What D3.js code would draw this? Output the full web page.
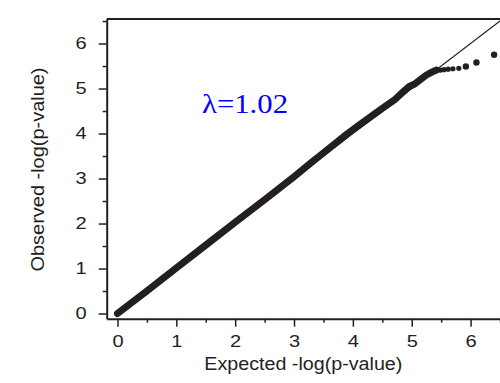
<!DOCTYPE html>
<html>
<head>
<meta charset="utf-8">
<script src="https://cdn.jsdelivr.net/npm/d3@7"></script>
<style>
  body { margin: 0; background: #fff; }
  svg { display: block; }
</style>
</head>
<body>
<svg id="qq"></svg>
<script>
// dense part of the QQ curve (expected, observed)
const expectedDense = [0, 0.5, 1, 1.5, 2, 2.5, 3, 3.3, 3.5, 3.7, 3.9, 4.1, 4.3, 4.5, 4.7, 4.85, 4.95, 5.05, 5.15, 5.25, 5.35, 5.42]
const observedDense = [0, 0.5, 1.01, 1.52, 2.03, 2.53, 3.04, 3.36, 3.57, 3.78, 3.99, 4.18, 4.37, 4.56, 4.74, 4.92, 5.04, 5.1, 5.2, 5.3, 5.37, 5.41]

// top-ranked points drawn as separate dots
const expectedTail = [5.49, 5.55, 5.62, 5.70, 5.80, 5.92, 6.10, 6.40]
const observedTail = [5.41, 5.42, 5.43, 5.44, 5.45, 5.49, 5.58, 5.75]

const xTicks = [0, 1, 2, 3, 4, 5, 6]
const yTicks = [0, 1, 2, 3, 4, 5, 6]
const minorTicks = [0.5, 1.5, 2.5, 3.5, 4.5, 5.5, 6.5]
const lambdaLabel = "λ=1.02"

const width = 500
const height = 383
const ink = "#231f20"
const sans = "'Liberation Sans', Arial, sans-serif"
const stretch = 1.18 // the original's sans text is set a little wide

const svg = d3.select("svg#qq")
  .attr("width", width)
  .attr("height", height)
  .attr("viewBox", `0 0 ${width} ${height}`)

const margin = {top: 19, right: 0, bottom: 64.3, left: 106.7}

const x = d3.scaleLinear()
  .domain([-0.183, 6.5])
  .range([margin.left, width - margin.right])

const y = d3.scaleLinear()
  .domain([-0.115, 6.545])
  .range([height - margin.bottom, margin.top])

svg.append("defs").append("clipPath").attr("id", "plot")
  .append("rect")
  .attr("x", margin.left).attr("y", margin.top)
  .attr("width", width - margin.left - margin.right)
  .attr("height", height - margin.top - margin.bottom)

// y = x reference line
svg.append("line")
  .attr("clip-path", "url(#plot)")
  .attr("x1", x(0)).attr("y1", y(0))
  .attr("x2", x(6.6)).attr("y2", y(6.6))
  .attr("stroke", ink)
  .attr("stroke-width", 1.1)

const dense = d3.zip(expectedDense, observedDense)
svg.append("path")
  .datum(dense)
  .attr("fill", "none")
  .attr("stroke", ink)
  .attr("stroke-width", 7)
  .attr("stroke-linecap", "round")
  .attr("stroke-linejoin", "round")
  .attr("d", d3.line().x(d => x(d[0])).y(d => y(d[1])))

svg.append("g")
  .selectAll("circle")
  .data(d3.zip(expectedTail, observedTail))
  .join("circle")
    .attr("cx", d => x(d[0]))
    .attr("cy", d => y(d[1]))
    .attr("r", (d, i) => i < 5 ? 2.6 : 3.2)
    .attr("fill", ink)

// frame: top border
svg.append("line")
  .attr("x1", margin.left).attr("x2", width)
  .attr("y1", margin.top).attr("y2", margin.top)
  .attr("stroke", ink).attr("stroke-width", 2)

const style = g => {
  g.select(".domain").attr("stroke", ink).attr("stroke-width", 2)
  g.selectAll(".tick line").attr("stroke", ink).attr("stroke-width", 1.5)
  g.selectAll("text").attr("fill", ink)
    .attr("font-family", sans)
    .attr("font-size", 17)
    .attr("x", function() { return +this.getAttribute("x") / stretch })
    .attr("transform", `scale(${stretch},1)`)
}

svg.append("g")
  .attr("transform", `translate(0,${height - margin.bottom})`)
  .call(d3.axisBottom(x).tickValues(minorTicks).tickSize(4).tickFormat("").tickSizeOuter(0))
  .call(g => g.select(".domain").remove())
  .call(style)

svg.append("g")
  .attr("transform", `translate(${margin.left},0)`)
  .call(d3.axisLeft(y).tickValues(minorTicks).tickSize(4).tickFormat("").tickSizeOuter(0))
  .call(g => g.select(".domain").remove())
  .call(style)

svg.append("g")
  .attr("transform", `translate(0,${height - margin.bottom})`)
  .call(d3.axisBottom(x).tickValues(xTicks).tickFormat(d3.format("d")).tickSize(8).tickPadding(8).tickSizeOuter(0))
  .call(style)

svg.append("g")
  .attr("transform", `translate(${margin.left},0)`)
  .call(d3.axisLeft(y).tickValues(yTicks).tickFormat(d3.format("d")).tickSize(8).tickPadding(12).tickSizeOuter(0))
  .call(style)

svg.append("text")
  .attr("x", (margin.left + width) / 2)
  .attr("y", 370)
  .attr("text-anchor", "middle")
  .attr("font-family", sans)
  .attr("font-size", 17.5)
  .attr("textLength", 198)
  .attr("lengthAdjust", "spacingAndGlyphs")
  .attr("fill", ink)
  .text("Expected -log(p-value)")

svg.append("text")
  .attr("transform", `translate(43.5,169.5) rotate(-90)`)
  .attr("text-anchor", "middle")
  .attr("font-family", sans)
  .attr("font-size", 17.5)
  .attr("textLength", 204)
  .attr("lengthAdjust", "spacingAndGlyphs")
  .attr("fill", ink)
  .text("Observed -log(p-value)")

svg.append("text")
  .attr("x", 202)
  .attr("y", 113)
  .attr("font-family", "'Liberation Serif', 'Times New Roman', serif")
  .attr("font-size", 27.5)
  .attr("textLength", 86)
  .attr("lengthAdjust", "spacingAndGlyphs")
  .attr("fill", "#0000ff")
  .text(lambdaLabel)
</script>
</body>
</html>
